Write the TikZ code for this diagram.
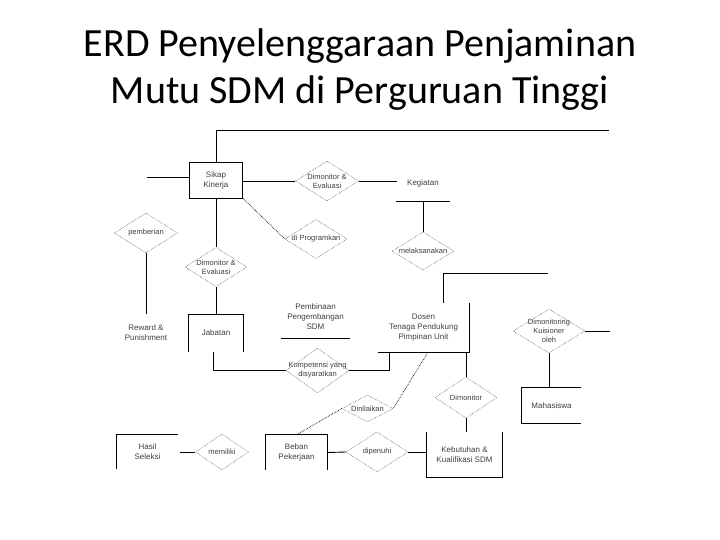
\documentclass[tikz,border=0pt]{standalone}
\usepackage{fontspec}
\setmainfont{Carlito}
\newfontfamily\diagfont{Liberation Sans}
\usetikzlibrary{shapes.geometric}

\begin{document}
\begin{tikzpicture}[x=1pt,y=-1pt,
    ent/.style={minimum width=54pt,minimum height=37pt,inner sep=0pt,
        align=center,font=\diagfont\fontsize{8}{10}\selectfont,text=black!75},
    rel/.style={diamond,draw,densely dotted,minimum width=62pt,
        minimum height=39pt,inner sep=0pt},
    reltxt/.style={align=center,inner sep=0pt,text=black!75,
        font=\diagfont\fontsize{7.5}{9}\selectfont},
    conn/.style={line width=0.9pt},
    dconn/.style={line width=0.7pt,densely dotted}
]
    \useasboundingbox[fill=white] (0,0) rectangle (720,540);

    \node[font=\fontsize{40}{47}\selectfont,align=center] (judul) at (360,70)
        {ERD Penyelenggaraan Penjaminan\\Mutu SDM di Perguruan Tinggi};

    % entitas
    \node[ent,draw,conn,minimum width=53pt,minimum height=36pt] (sikap) at (216,180) {Sikap\\Kinerja};
    \node[ent] (kegiatan) at (423,183) {Kegiatan};
    \node[ent,minimum width=55pt] (jabatan) at (216,333) {Jabatan};
    \node[ent] (reward) at (146,333) {Reward \&\\Punishment};
    \node[ent,minimum width=69pt,minimum height=42pt] (pembinaan) at (315.5,317) {Pembinaan\\Pengembangan\\SDM};
    \node[ent,minimum width=91pt,minimum height=49pt] (dosen) at (423.5,327.5) {Dosen\\Tenaga Pendukung\\Pimpinan Unit};
    \node[ent,minimum width=59pt,minimum height=35pt] (mahasiswa) at (551.5,405.5) {Mahasiswa};
    \node[ent,minimum width=61pt,minimum height=34pt] (hasil) at (147.5,452) {Hasil\\Seleksi};
    \node[ent,minimum width=61pt,minimum height=35pt] (beban) at (296.5,452.5) {Beban\\Pekerjaan};
    \node[ent,minimum width=75pt,minimum height=45pt] (kebutuhan) at (464.5,455) {Kebutuhan \&\\Kualifikasi SDM};

    % relasi
    \node[rel,minimum width=63pt,minimum height=40pt,
        label={[reltxt]center:Dimonitor \&\\Evaluasi}] (mon1) at (327,181) {};
    \node[rel,label={[reltxt]center:di Programkan}] (prog) at (316,239) {};
    \node[rel,minimum height=38pt,label={[reltxt]center:melaksanakan}] (laksana) at (423,251) {};
    \node[rel,label={[reltxt]center:Dimonitor \&\\Evaluasi}] (mon2) at (216,267) {};
    \node[rel,minimum width=63pt,minimum height=40pt,
        label={[reltxt]center:pemberian}] (beri) at (146,233) {};
    \node[rel,minimum width=63pt,minimum height=45pt,
        label={[reltxt]center:Kompetensi yang\\disyaratkan}] (komp) at (317.5,370.5) {};
    \node[rel,minimum width=51pt,minimum height=27pt,
        label={[reltxt]center:Dinilaikan}] (nilai) at (367.5,408.5) {};
    \node[rel,minimum height=41pt,label={[reltxt]center:Dimonitor}] (mon3) at (466,397.5) {};
    \node[rel,minimum width=72pt,minimum height=44pt,
        label={[reltxt]center:Dimonitoring\\Kuisioner\\oleh}] (monk) at (549,331) {};
    \node[rel,minimum width=53pt,minimum height=36pt,
        label={[reltxt]center:memiliki}] (milik) at (222,452) {};
    \node[rel,minimum height=40pt,label={[reltxt]center:dipenuhi}] (penuhi) at (377,452) {};

    \coordinate (atas) at (609,130);
    \coordinate (kiri) at (147,177);
    \coordinate (kegkiri) at (397,181);
    \coordinate (dosatas) at (548,273);
    \coordinate (monkanan) at (610,331);

    % garis
    \draw[conn] (sikap.north) |- (atas);
    \draw[conn] (kiri) -- (kiri -| sikap.west);
    \draw[conn] (sikap.east |- mon1.west) -- (mon1.west);
    \draw[conn] (mon1.east) -- (kegkiri);
    \foreach \x/\y in {kegiatan.south/laksana.north,sikap.south/mon2.north,
        mon2.south/jabatan.north,beri.south/reward.north,beban.east/penuhi.west,
        monk.east/monkanan}
        \draw[conn] (\x)--(\y);
    \draw[conn] (mon3.north |- dosen.south) -- (mon3.north);
    \draw[conn] (mon3.south) -- (mon3.south |- kebutuhan.north);
    \draw[conn] (penuhi.east) -- (kebutuhan.west |- penuhi.east);
    \draw[conn] ([xshift=2pt]hasil.east) -- (milik.west);
    \draw[conn] (monk.south) -- (monk.south |- mahasiswa.north);
    \draw[conn] ([xshift=-3pt]jabatan.south) |- (komp.west);
    \draw[conn] (komp.east) -| ([xshift=12pt]dosen.south west);
    \draw[conn] ([xshift=19.5pt]dosen.north) |- (dosatas);
    \draw[dconn] (sikap.south east) -- (prog.west);
    \draw[dconn] ([xshift=4.5pt]dosen.south) -- (nilai.east);
    \draw[dconn] (nilai.west) -- (beban.north);

    % sisi entitas
    \draw[conn] (kegiatan.south west) -- (kegiatan.south east);
    \draw[conn] (pembinaan.south west) -- (pembinaan.south east);
    \draw[conn] (jabatan.south west) -- (jabatan.north west) -- (jabatan.north east) -- (jabatan.south east);
    \draw[conn] (dosen.south west) -- (dosen.south east) -- (dosen.north east);
    \draw[conn] (mahasiswa.north east) -- (mahasiswa.north west) -- (mahasiswa.south west) -- (mahasiswa.south east);
    \draw[conn] (hasil.south west) -- (hasil.north west) -- (hasil.north east);
    \draw[conn] (beban.south west) -- (beban.north west) -- (beban.north east) -- (beban.south east);
    \draw[conn] (kebutuhan.north west) -- (kebutuhan.south west) -- (kebutuhan.south east) -- (kebutuhan.north east);
\end{tikzpicture}
\end{document}
